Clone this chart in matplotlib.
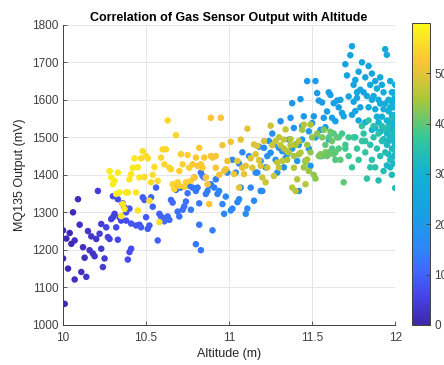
import matplotlib.pyplot as plt
import numpy as np
from matplotlib.colors import LinearSegmentedColormap

# puntos (altitud m, salida MQ135 mV, valor de color), por grupo de color
indigo = [(10.00, 1252, 1), (10.04, 1245, 1), (10.00, 1177, 1), (10.03, 1150, 1), (10.06, 1300, 1),
          (10.09, 1335, 2), (10.10, 1267, 2), (10.07, 1225, 2), (10.05, 1216, 1), (10.07, 1121, 2),
          (10.11, 1141, 2), (10.12, 1207, 2), (10.13, 1179, 2), (10.14, 1128, 3), (10.16, 1199, 3),
          (10.17, 1236, 3), (10.18, 1190, 3), (10.19, 1183, 3), (10.20, 1229, 3), (10.21, 1357, 4),
          (10.22, 1243, 4), (10.23, 1269, 4), (10.23, 1203, 4), (10.24, 1154, 4), (10.25, 1177, 4),
          (10.27, 1234, 5), (10.28, 1229, 5), (10.29, 1282, 5), (10.30, 1287, 5), (10.31, 1296, 5),
          (10.32, 1260, 6), (10.33, 1227, 6), (10.34, 1287, 6), (10.35, 1278, 6), (10.36, 1322, 6),
          (10.37, 1313, 7), (10.38, 1278, 7), (10.39, 1174, 7), (10.40, 1194, 7), (10.41, 1203, 7),
          (10.01, 1056, 1), (10.02, 1230, 1), (10.15, 1250, 3), (10.26, 1260, 5)]

blue = [(10.36, 1324, 8), (10.41, 1270, 8), (10.44, 1265, 8), (10.46, 1267, 8), (10.47, 1260, 9),
        (10.48, 1340, 9), (10.49, 1333, 9), (10.50, 1287, 9), (10.51, 1256, 9), (10.52, 1265, 9),
        (10.53, 1340, 10), (10.54, 1315, 10), (10.56, 1366, 10), (10.57, 1225, 10), (10.58, 1296, 10),
        (10.59, 1289, 10), (10.60, 1280, 10), (10.61, 1276, 11), (10.62, 1285, 11), (10.63, 1289, 11),
        (10.64, 1280, 11), (10.65, 1333, 11), (10.66, 1326, 11), (10.67, 1370, 11), (10.68, 1360, 12),
        (10.69, 1302, 12), (10.70, 1289, 12), (10.71, 1366, 12), (10.72, 1307, 12), (10.73, 1316, 12),
        (10.74, 1329, 12), (10.75, 1351, 12), (10.76, 1371, 13), (10.77, 1307, 13), (10.78, 1366, 13),
        (10.79, 1393, 13), (10.80, 1357, 13), (10.81, 1366, 13), (10.82, 1324, 13), (10.83, 1406, 13),
        (10.84, 1397, 14), (10.85, 1393, 14), (10.86, 1349, 14), (10.87, 1357, 14), (10.88, 1371, 14),
        (10.89, 1375, 14), (10.90, 1252, 14), (10.80, 1215, 13), (10.83, 1199, 13), (10.82, 1267, 13),
        (10.91, 1366, 14), (10.92, 1388, 14), (10.93, 1349, 14), (10.94, 1357, 15), (10.96, 1322, 15),
        (10.97, 1296, 15), (10.98, 1342, 15), (10.99, 1406, 15), (11.01, 1305, 15), (11.02, 1310, 15),
        (11.04, 1406, 15), (11.05, 1327, 15), (11.06, 1335, 16), (11.07, 1366, 16), (11.10, 1296, 16),
        (11.11, 1310, 16), (11.13, 1366, 16), (11.15, 1331, 16), (11.16, 1406, 16), (11.19, 1357, 16),
        (11.20, 1357, 16), (10.30, 1343, 7), (10.33, 1335, 7), (10.38, 1300, 8), (10.40, 1310, 8)]

bright_blue = [(11.17, 1406, 17), (11.19, 1437, 17), (11.21, 1472, 17), (11.23, 1450, 18), (11.24, 1490, 18),
               (11.25, 1459, 18), (11.27, 1481, 18), (11.29, 1406, 18), (11.30, 1472, 18), (11.31, 1543, 19),
               (11.32, 1463, 19), (11.34, 1445, 19), (11.36, 1494, 19), (11.37, 1552, 19), (11.38, 1591, 19),
               (11.39, 1525, 19), (11.40, 1481, 19), (11.41, 1437, 19), (11.42, 1357, 19), (11.43, 1602, 20),
               (11.44, 1494, 20), (11.45, 1556, 20), (11.46, 1437, 20), (11.47, 1650, 20), (11.48, 1516, 20),
               (11.49, 1424, 20), (11.50, 1538, 20), (11.51, 1556, 21), (11.52, 1650, 21), (11.53, 1618, 21),
               (11.54, 1598, 21), (11.55, 1450, 21), (11.56, 1593, 21), (11.57, 1552, 21), (11.58, 1527, 21),
               (11.59, 1569, 22), (11.60, 1620, 22), (11.61, 1613, 22), (11.62, 1552, 22), (11.63, 1591, 22),
               (11.64, 1543, 22), (11.65, 1598, 22), (11.66, 1580, 22), (11.67, 1600, 23), (11.68, 1565, 23),
               (11.69, 1556, 23), (11.70, 1695, 23), (11.71, 1665, 23), (11.72, 1609, 23), (11.73, 1719, 24),
               (11.74, 1743, 24), (11.75, 1640, 24), (11.76, 1653, 24), (11.77, 1605, 24), (11.78, 1675, 24),
               (11.79, 1627, 24), (11.02, 1440, 16), (11.06, 1430, 16), (11.08, 1460, 16), (11.12, 1450, 17),
               (11.18, 1475, 17), (11.22, 1420, 18), (11.26, 1510, 18), (11.28, 1440, 18), (11.33, 1420, 19),
               (11.35, 1455, 19), (11.38, 1470, 19), (11.42, 1480, 20), (11.44, 1530, 20), (11.48, 1470, 20),
               (11.52, 1500, 21), (11.55, 1520, 21), (11.60, 1495, 22)]

cyan = [(11.80, 1700, 25), (11.82, 1660, 25), (11.84, 1690, 25), (11.85, 1640, 26), (11.86, 1670, 26),
        (11.87, 1610, 26), (11.88, 1650, 26), (11.89, 1630, 27), (11.90, 1600, 27), (11.91, 1660, 27),
        (11.92, 1640, 27), (11.93, 1620, 28), (11.94, 1735, 27), (11.95, 1720, 27), (11.96, 1600, 28),
        (11.97, 1650, 28), (11.98, 1620, 29), (11.99, 1580, 30), (12.00, 1640, 29), (11.96, 1570, 29),
        (11.94, 1590, 28), (11.92, 1555, 29), (11.90, 1540, 30), (11.88, 1575, 28), (11.86, 1600, 27),
        (11.84, 1580, 27), (11.83, 1610, 26), (11.81, 1620, 25), (11.79, 1580, 25), (11.77, 1620, 25),
        (11.75, 1595, 25), (11.76, 1570, 25), (11.74, 1560, 24), (11.78, 1545, 26), (11.82, 1540, 28),
        (11.86, 1520, 30), (11.88, 1525, 30), (11.91, 1515, 31), (11.93, 1495, 32), (11.95, 1510, 31),
        (11.97, 1540, 31), (11.99, 1500, 32), (12.00, 1560, 31), (11.99, 1600, 30), (11.98, 1470, 32),
        (11.96, 1455, 32), (12.00, 1480, 32), (11.99, 1430, 32), (11.97, 1420, 32), (11.95, 1425, 32),
        (12.00, 1590, 30), (11.98, 1560, 31), (11.99, 1530, 31), (12.00, 1510, 32), (11.97, 1580, 30),
        (11.99, 1620, 29), (12.00, 1610, 30), (11.98, 1595, 30), (11.99, 1550, 31), (12.00, 1535, 31),
        (11.98, 1520, 32), (11.99, 1490, 32), (12.00, 1455, 33), (11.98, 1445, 32), (11.97, 1525, 31),
        (11.96, 1490, 32), (11.95, 1545, 30), (11.93, 1575, 29), (11.91, 1590, 28), (11.89, 1555, 29)]

green = [(11.56, 1450, 40), (11.58, 1480, 40), (11.60, 1500, 39), (11.62, 1470, 39), (11.64, 1440, 39),
         (11.66, 1500, 38), (11.68, 1510, 38), (11.70, 1480, 38), (11.72, 1450, 38), (11.74, 1420, 37),
         (11.75, 1500, 37), (11.77, 1470, 37), (11.78, 1440, 37), (11.80, 1490, 36), (11.81, 1510, 36),
         (11.82, 1460, 36), (11.83, 1390, 36), (11.85, 1480, 35), (11.86, 1440, 35), (11.87, 1500, 35),
         (11.88, 1420, 35), (11.89, 1470, 35), (11.90, 1385, 34), (11.91, 1450, 34), (11.92, 1490, 34),
         (11.93, 1410, 34), (11.94, 1460, 34), (11.95, 1480, 33), (11.97, 1440, 33), (11.98, 1400, 33),
         (12.00, 1365, 33), (11.99, 1510, 33), (11.96, 1530, 33), (11.98, 1550, 33), (12.00, 1520, 33),
         (11.99, 1470, 33), (11.97, 1500, 33), (11.94, 1520, 34), (11.92, 1530, 34), (11.90, 1510, 35),
         (11.87, 1530, 35), (11.84, 1545, 36), (11.80, 1530, 36), (11.76, 1500, 37), (11.72, 1500, 38),
         (11.70, 1470, 38), (11.66, 1470, 39), (11.63, 1510, 39), (11.60, 1455, 40), (11.85, 1420, 35),
         (11.82, 1490, 36)]

olive = [(11.30, 1500, 46), (11.33, 1470, 46), (11.35, 1440, 45), (11.37, 1495, 45), (11.40, 1480, 45),
         (11.42, 1455, 44), (11.44, 1520, 44), (11.45, 1420, 44), (11.47, 1480, 44), (11.49, 1460, 43),
         (11.50, 1500, 43), (11.51, 1400, 43), (11.52, 1390, 43), (11.53, 1510, 43), (11.54, 1450, 42),
         (11.55, 1455, 42), (11.56, 1500, 42), (11.57, 1520, 42), (11.58, 1460, 42), (11.59, 1450, 41),
         (11.60, 1460, 41), (11.61, 1515, 41), (11.62, 1490, 41), (11.63, 1455, 41), (11.64, 1460, 40),
         (11.65, 1500, 40), (11.67, 1440, 40), (11.69, 1380, 40), (11.46, 1435, 44), (11.48, 1410, 44),
         (11.39, 1450, 45), (11.36, 1460, 45)]

orange = [(10.89, 1450, 52), (10.90, 1446, 52), (10.92, 1419, 52), (10.94, 1400, 52), (10.96, 1479, 51),
          (10.97, 1410, 51), (10.98, 1415, 51), (10.99, 1437, 51), (11.01, 1488, 51), (11.03, 1402, 51),
          (11.05, 1437, 50), (11.06, 1366, 50), (11.07, 1494, 50), (11.08, 1419, 50), (11.09, 1402, 50),
          (11.10, 1424, 50), (11.11, 1523, 50), (11.13, 1444, 49), (11.14, 1419, 49), (11.15, 1481, 49),
          (11.16, 1455, 49), (11.17, 1477, 49), (11.18, 1439, 49), (11.19, 1424, 49), (11.20, 1393, 48),
          (11.21, 1490, 48), (11.22, 1380, 48), (11.23, 1419, 48), (11.25, 1531, 48), (11.26, 1479, 48),
          (11.27, 1397, 48), (11.28, 1490, 47), (11.29, 1433, 47), (11.30, 1419, 47), (11.31, 1479, 47),
          (11.32, 1437, 47), (11.33, 1494, 47), (11.34, 1521, 47), (11.35, 1463, 46), (11.37, 1479, 46),
          (11.38, 1366, 46), (11.39, 1419, 46), (11.40, 1357, 46), (11.41, 1388, 46), (11.42, 1490, 46),
          (11.43, 1459, 46), (11.45, 1534, 46), (11.46, 1375, 46), (11.47, 1441, 45), (11.49, 1534, 45)]

yellow = [(10.28, 1410, 58), (10.29, 1393, 58), (10.30, 1375, 58), (10.31, 1384, 58), (10.32, 1349, 58),
          (10.33, 1406, 58), (10.34, 1353, 58), (10.36, 1322, 57), (10.37, 1309, 57), (10.38, 1353, 57),
          (10.39, 1353, 57), (10.40, 1388, 57), (10.41, 1402, 57), (10.42, 1419, 57), (10.43, 1444, 57),
          (10.44, 1353, 57), (10.45, 1305, 57), (10.46, 1393, 57), (10.47, 1444, 56), (10.48, 1463, 56),
          (10.49, 1394, 56), (10.50, 1450, 56), (10.51, 1444, 56), (10.52, 1331, 56), (10.53, 1380, 56),
          (10.55, 1421, 56), (10.57, 1384, 56), (10.58, 1274, 56), (10.59, 1446, 55), (10.60, 1468, 55),
          (10.61, 1428, 55), (10.62, 1468, 55), (10.63, 1545, 55), (10.64, 1419, 55), (10.65, 1415, 55),
          (10.66, 1375, 55), (10.67, 1362, 55), (10.68, 1506, 55), (10.69, 1380, 54), (10.70, 1371, 54),
          (10.71, 1455, 54), (10.72, 1428, 54), (10.73, 1368, 54), (10.74, 1380, 54), (10.75, 1453, 54),
          (10.76, 1419, 54), (10.77, 1384, 54), (10.78, 1428, 53), (10.79, 1393, 53), (10.80, 1446, 53),
          (10.81, 1424, 53), (10.82, 1472, 53), (10.83, 1428, 53), (10.84, 1419, 53), (10.85, 1446, 53),
          (10.86, 1393, 52), (10.87, 1375, 52), (10.88, 1322, 52), (10.89, 1552, 52), (10.92, 1450, 52),
          (10.95, 1552, 52), (10.35, 1290, 57), (10.45, 1420, 57), (10.54, 1400, 56), (10.70, 1410, 54)]

grupos = [indigo, blue, bright_blue, cyan, green, olive, orange, yellow]

# mapa de color tipo parula (MATLAB reciente)
parula = [(0.2422, 0.1504, 0.6603), (0.2780, 0.2750, 0.9200), (0.2500, 0.4100, 0.9950),
          (0.1786, 0.5289, 0.9682), (0.0900, 0.6300, 0.8900), (0.0689, 0.6948, 0.8394),
          (0.2161, 0.7843, 0.5923), (0.6720, 0.7793, 0.2227), (0.9970, 0.7659, 0.2199),
          (0.9769, 0.9839, 0.0805)]
cmap = LinearSegmentedColormap.from_list(
    'parula', list(zip([0, 0.1, 0.18, 0.25, 0.375, 0.5, 0.625, 0.75, 0.875, 1.0], parula)))

alt = []
mq = []
col = []
for g in grupos:
    for a, m, c in g:
        alt.append(a)
        mq.append(m)
        col.append(c)

plt.rcParams['font.family'] = ['Liberation Sans', 'DejaVu Sans']
gris = '#404040'

fig = plt.figure(figsize=(4.44, 3.65), dpi=100)
ax = fig.add_axes([0.142, 0.11, 0.748, 0.822])
sc = ax.scatter(alt, mq, c=col, cmap=cmap, vmin=0, vmax=60, s=22, linewidths=0)

ax.set_xlim(10, 12)
ax.set_ylim(1000, 1800)
ax.set_xticks([10, 10.5, 11, 11.5, 12])
ax.set_xticklabels(['10', '10.5', '11', '11.5', '12'])
ax.set_yticks(range(1000, 1801, 100))
ax.grid(True, color='#e6e6e6', linewidth=0.7)
ax.set_axisbelow(True)
for s in ['top', 'right']:
    ax.spines[s].set_visible(False)
for s in ['left', 'bottom']:
    ax.spines[s].set_color(gris)
    ax.spines[s].set_linewidth(0.7)
ax.tick_params(direction='in', length=3, width=0.6, colors=gris, labelsize=8.5)
ax.tick_params(axis='x', pad=5)

ax.set_xlabel('Altitude (m)', fontsize=9, color='#262626', labelpad=3)
ax.set_ylabel('MQ135 Output (mV)', fontsize=9, color='#262626', labelpad=4)
ax.set_title('Correlation of Gas Sensor Output with Altitude', fontsize=9, fontweight='bold', pad=3)

cax = fig.add_axes([0.927, 0.11, 0.042, 0.827])
cb = fig.colorbar(sc, cax=cax)
cb.set_ticks([0, 10, 20, 30, 40, 50])
cb.outline.set_linewidth(0.7)
cb.outline.set_edgecolor(gris)
cax.tick_params(direction='in', length=3, width=0.6, colors=gris, labelsize=8.5, pad=3)

plt.savefig('out.png', dpi=100)
